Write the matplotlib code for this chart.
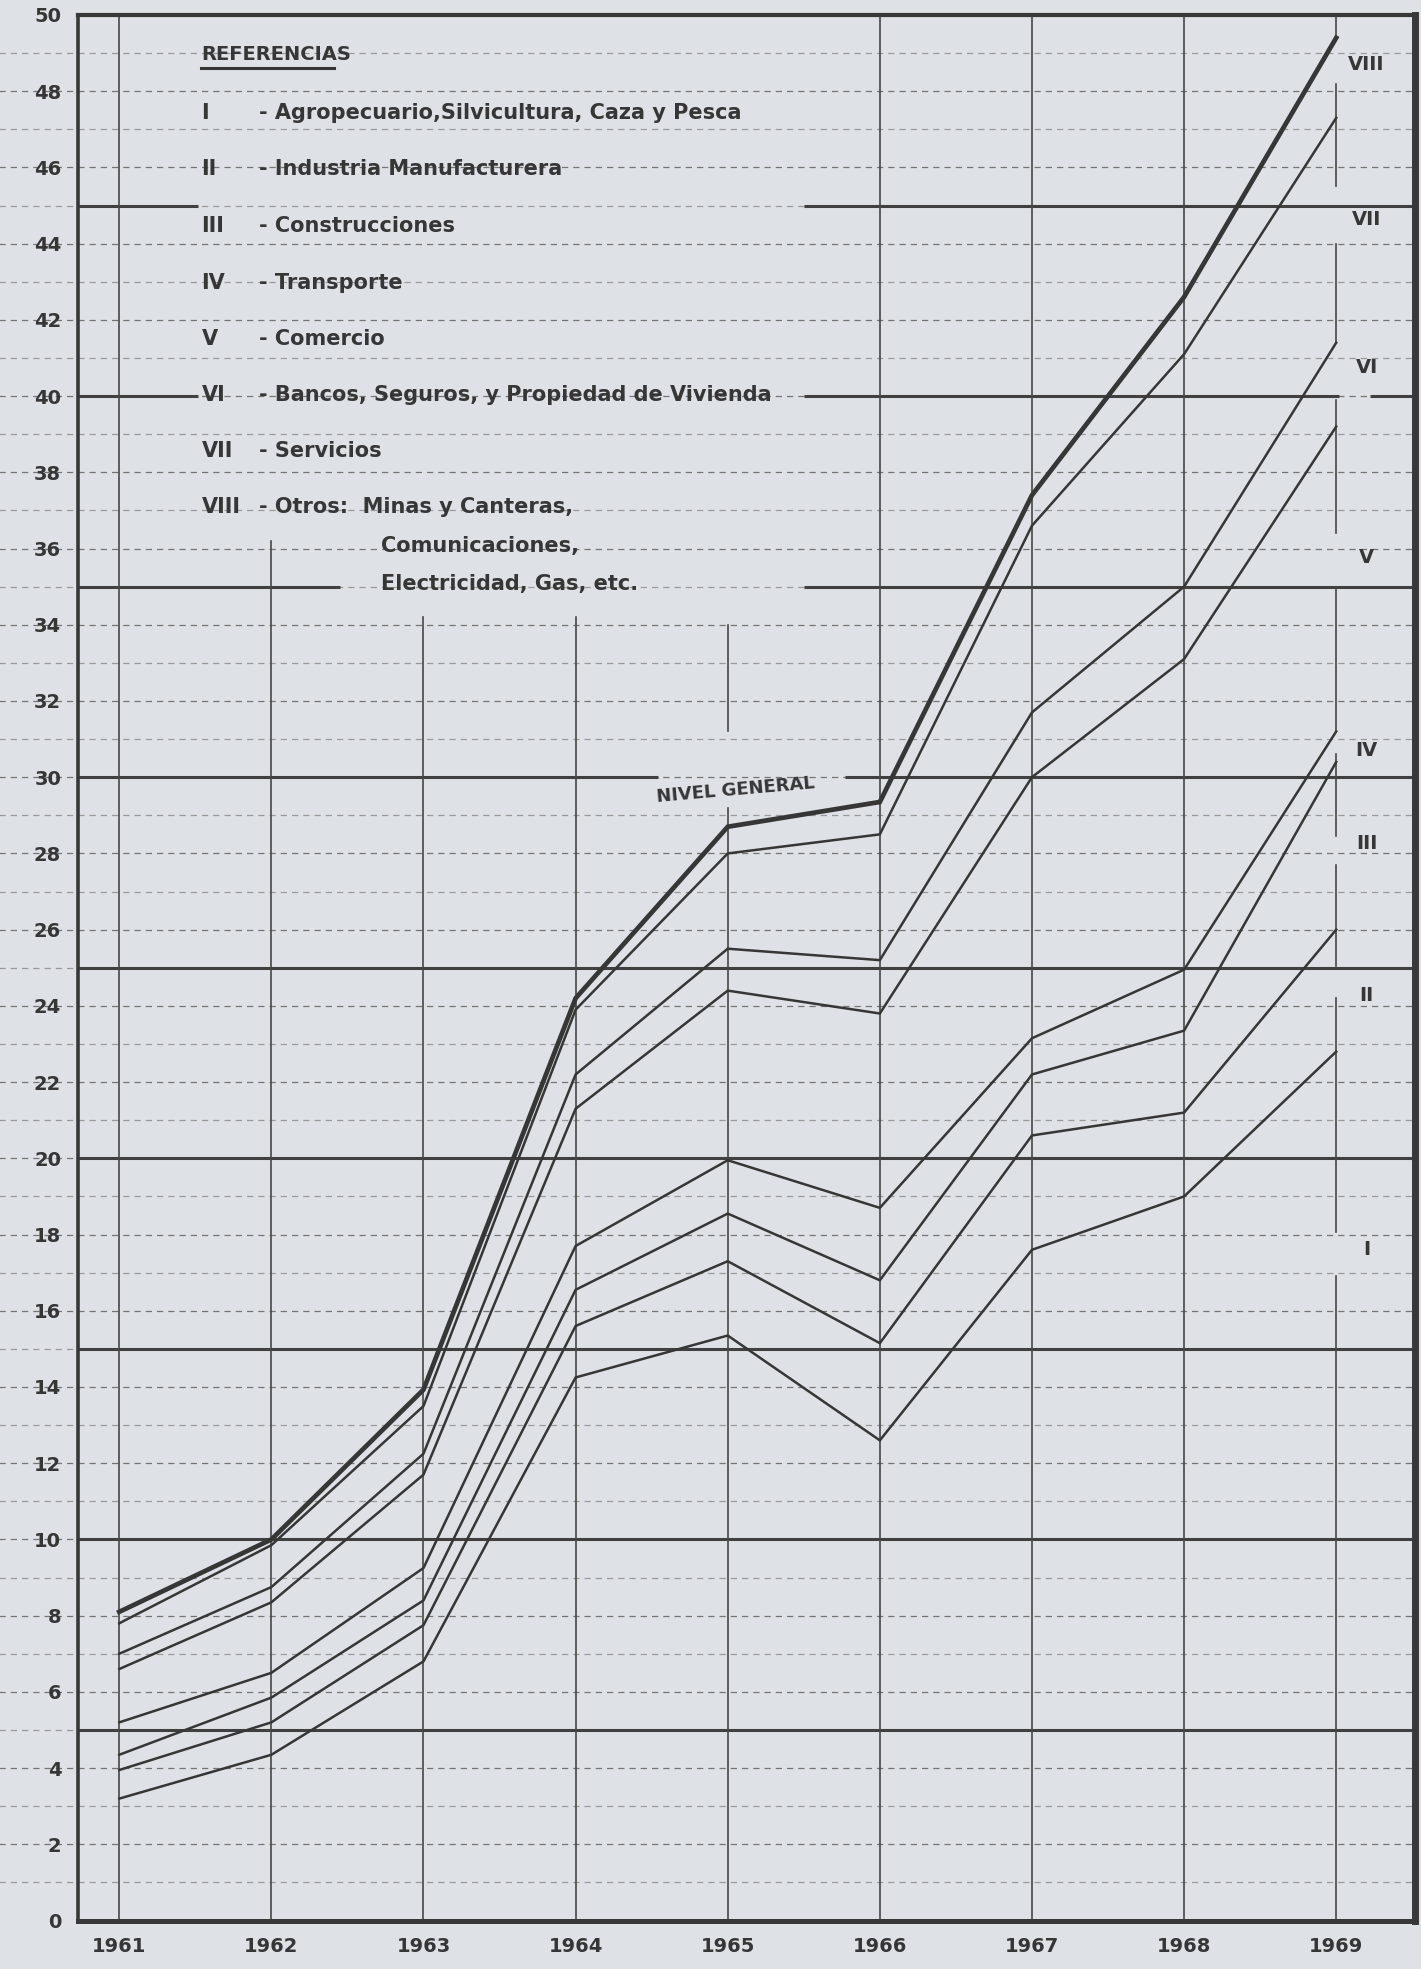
import matplotlib
matplotlib.use("Agg")
import matplotlib.pyplot as plt

# ---------------- data ----------------
years = [1961, 1962, 1963, 1964, 1965, 1966, 1967, 1968, 1969]
# cumulative levels (each line = sum of sectors up to that one)
serie_I    = [3.2, 4.35, 6.8, 14.25, 15.35, 12.6, 17.6, 19.0, 22.8]
serie_II   = [3.95, 5.2, 7.75, 15.6, 17.3, 15.15, 20.6, 21.2, 26.0]
serie_III  = [4.35, 5.85, 8.4, 16.55, 18.55, 16.8, 22.2, 23.35, 30.4]
serie_IV   = [5.2, 6.5, 9.25, 17.7, 19.95, 18.7, 23.15, 24.95, 31.2]
serie_V    = [6.6, 8.35, 11.7, 21.3, 24.4, 23.8, 30.0, 33.1, 39.2]
serie_VI   = [7.0, 8.75, 12.25, 22.2, 25.5, 25.2, 31.7, 35.0, 41.4]
serie_VII  = [7.8, 9.85, 13.5, 23.9, 28.0, 28.5, 36.6, 41.1, 47.3]
serie_VIII = [8.1, 10.0, 13.93, 24.2, 28.7, 29.35, 37.4, 42.6, 49.4]

roman = ["I", "II", "III", "IV", "V", "VI", "VII", "VIII"]
legend_texts = [
    "- Agropecuario,Silvicultura, Caza y Pesca",
    "- Industria Manufacturera",
    "- Construcciones",
    "- Transporte",
    "- Comercio",
    "- Bancos, Seguros, y Propiedad de Vivienda",
    "- Servicios",
    "- Otros:  Minas y Canteras,",
]
otros_lines = ["Comunicaciones,", "Electricidad, Gas, etc."]
ytick_values = list(range(0, 51, 2))
xtick_labels = ["1961", "1962", "1963", "1964", "1965", "1966", "1967", "1968", "1969"]

# ---------------- style ----------------
BG = "#dee2e6"
INK = "#363636"
FONT = ["DejaVu Sans"]
plt.rcParams["font.family"] = FONT
plt.rcParams["font.weight"] = "bold"

fig = plt.figure(figsize=(14.21, 19.69), dpi=100, facecolor=BG)
ax = fig.add_axes([0.0548, 0.0246, 0.9412, 0.9678], facecolor=BG)
ax.set_xlim(1960.728, 1969.52)
ax.set_ylim(0, 50)

# minor dashed horizontal lines, extending to the left edge of the figure
ytr = ax.get_yaxis_transform()
for v in range(1, 50):
    col = "#747474" if v % 2 == 0 else "#999999"
    ax.plot([-0.06, 1.0], [v, v], transform=ytr, clip_on=False,
            color=col, lw=0.9, ls=(0, (5, 4)), zorder=1)

# heavy lines every 5 units (with breaks as in the original)
heavy = {
    45: [(1960.728, 1961.52), (1965.5, 1969.52)],
    40: [(1960.728, 1961.52), (1965.5, 1969.02), (1969.22, 1969.52)],
    35: [(1960.728, 1962.45), (1965.5, 1969.52)],
    30: [(1960.728, 1964.54), (1965.77, 1969.52)],
    25: [(1960.728, 1969.52)],
    20: [(1960.728, 1969.52)],
    15: [(1960.728, 1969.52)],
    10: [(1960.728, 1969.52)],
    5: [(1960.728, 1969.52)],
}
for yv, segs in heavy.items():
    for a, b in segs:
        ax.plot([a, b], [yv, yv], color="#404040", lw=2.2, zorder=2,
                solid_capstyle="butt")

# vertical year lines
vsegs = {
    1961: [(0, 50)],
    1962: [(0, 36.2)],
    1963: [(0, 34.2)],
    1964: [(0, 34.2)],
    1965: [(0, 29.2), (31.2, 34.0)],
    1966: [(0, 50)],
    1967: [(0, 50)],
    1968: [(0, 50)],
    1969: [(0, 16.9), (18.07, 24.2), (25.05, 27.7), (28.45, 30.6),
           (31.2, 35.0), (36.4, 39.9), (41.4, 44.0), (45.5, 48.2), (49.4, 50)],
}
for xv, segs in vsegs.items():
    for a, b in segs:
        ax.plot([xv, xv], [a, b], color="#474747", lw=1.2, zorder=2)

# series lines
series = [serie_I, serie_II, serie_III, serie_IV, serie_V, serie_VI, serie_VII, serie_VIII]
for i, s in enumerate(series):
    lw = 3.4 if i == 7 else 1.8
    ax.plot(years, s, color=INK, lw=lw, zorder=4, solid_joinstyle="miter")

# right-side roman labels
label_y = [17.6, 24.26, 28.25, 30.7, 35.76, 40.74, 44.63, 48.71]
for r, yv in zip(roman, label_y):
    ax.text(1969.2, yv, r, ha="center", va="center", fontsize=14,
            fontweight="bold", color=INK, zorder=5)

# NIVEL GENERAL
ax.text(1965.05, 29.65, "NIVEL GENERAL", ha="center", va="center",
        fontsize=13, fontweight="bold", rotation=5, color=INK, zorder=5)

# legend block (REFERENCIAS)
ax.text(1961.54, 48.95, "REFERENCIAS", ha="left", va="center", fontsize=14,
        fontweight="bold", color=INK, zorder=5)
ax.plot([1961.54, 1962.41], [48.6, 48.6], color=INK, lw=2.2, zorder=5)
leg_y = [47.43, 45.95, 44.47, 42.98, 41.5, 40.02, 38.57, 37.09]
for r, t, yv in zip(roman, legend_texts, leg_y):
    ax.text(1961.54, yv, r, ha="left", va="center", fontsize=15,
            fontweight="bold", color=INK, zorder=5)
    ax.text(1961.92, yv, t, ha="left", va="center", fontsize=15,
            fontweight="bold", color=INK, zorder=5)
ax.text(1962.72, 36.07, otros_lines[0], ha="left", va="center", fontsize=15,
        fontweight="bold", color=INK, zorder=5)
ax.text(1962.72, 35.08, otros_lines[1], ha="left", va="center", fontsize=15,
        fontweight="bold", color=INK, zorder=5)

# ticks
ax.set_yticks(ytick_values)
ax.set_yticklabels([str(v) for v in ytick_values], fontsize=14,
                   fontweight="bold", color=INK)
ax.set_xticks(years)
ax.set_xticklabels(xtick_labels, fontsize=14, fontweight="bold", color=INK)
ax.tick_params(axis="y", length=0, pad=12)
ax.tick_params(axis="x", length=0, pad=12)

# frame
for side, lw in [("left", 2.6), ("top", 3.0), ("bottom", 3.6), ("right", 5.0)]:
    ax.spines[side].set_linewidth(lw)
    ax.spines[side].set_color("#383838")

fig.savefig("out.png", dpi=100, facecolor=BG)
